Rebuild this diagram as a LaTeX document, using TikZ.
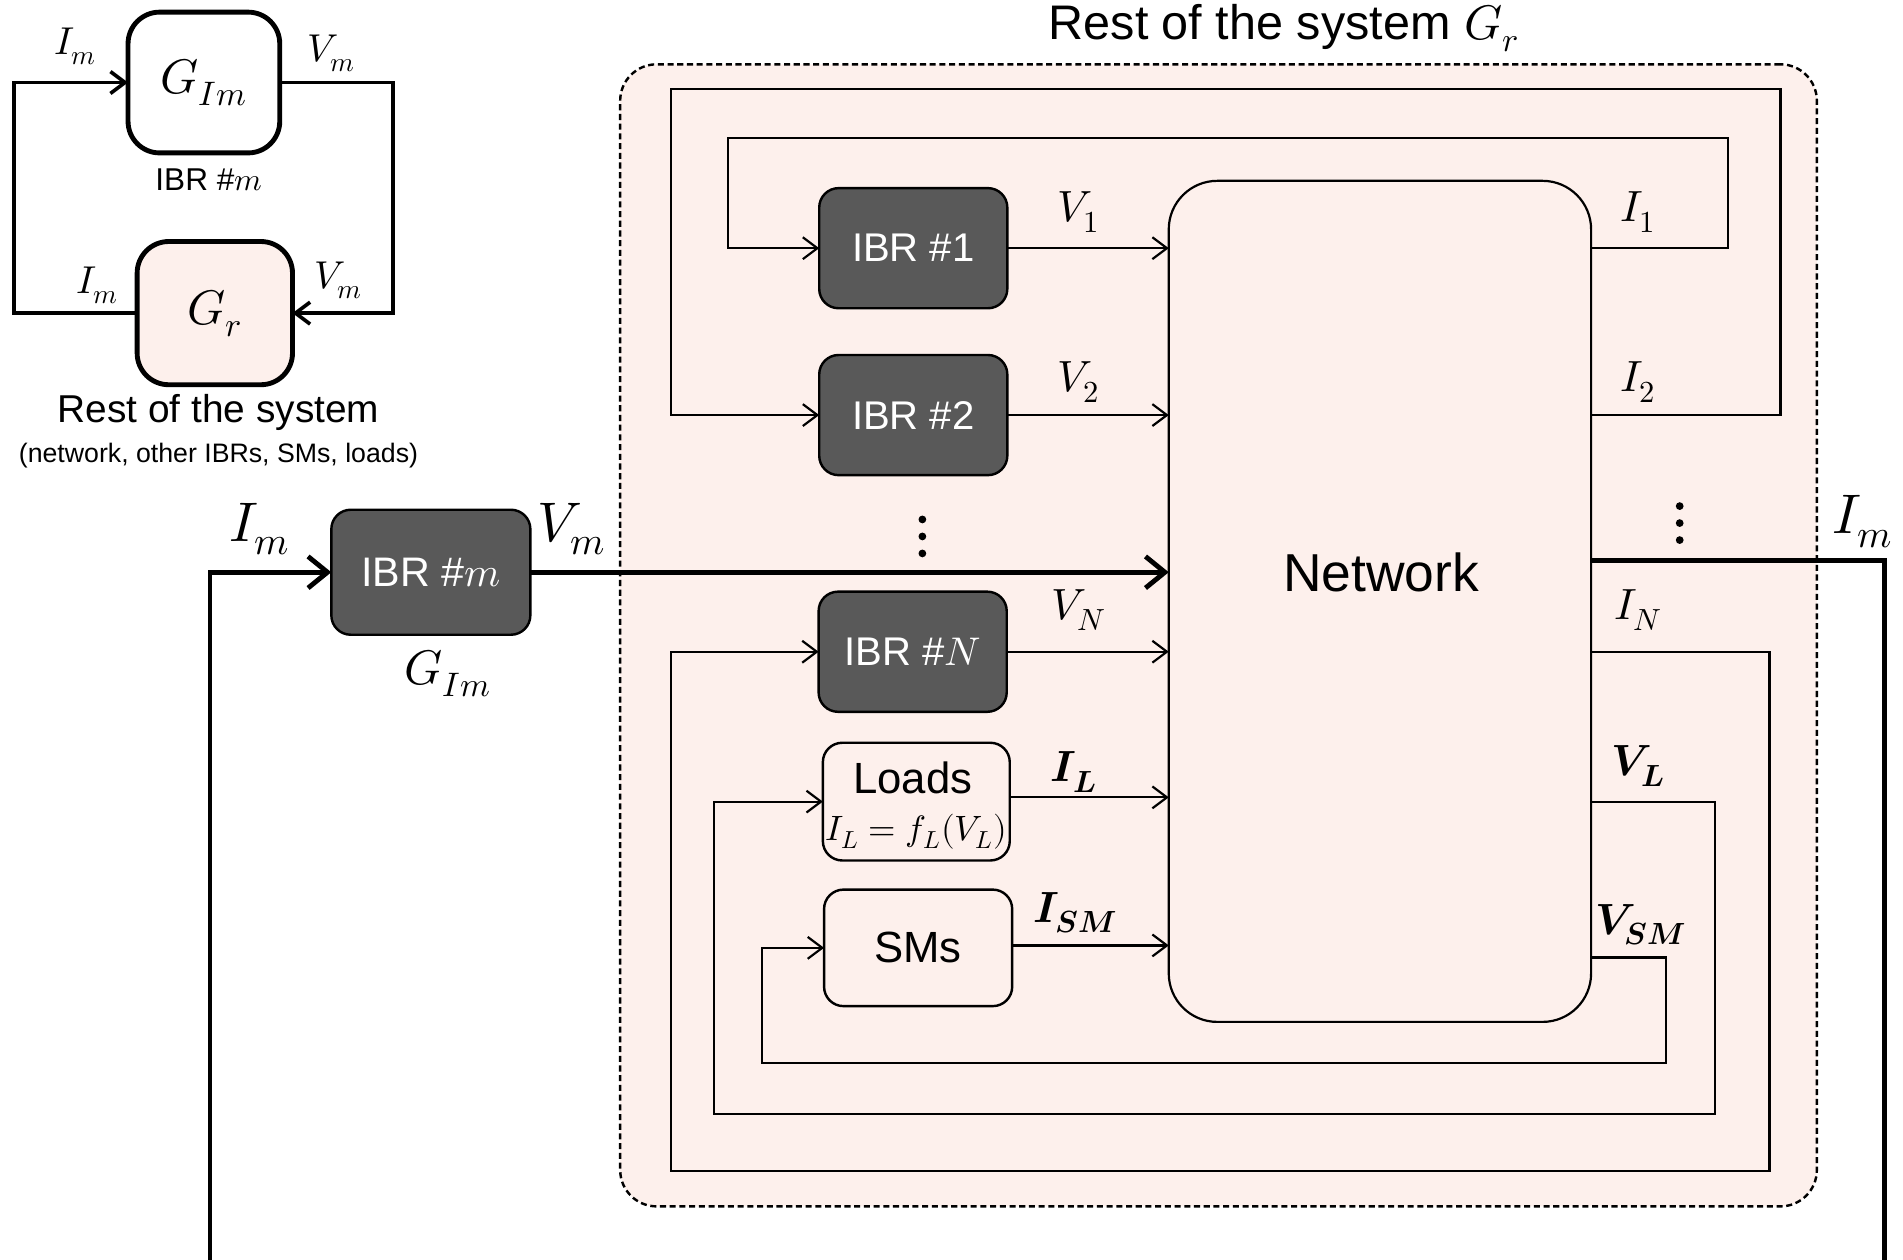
\documentclass[tikz,border=0pt]{standalone}
\usepackage{fontspec}
\usepackage{unicode-math}
\setmainfont{Liberation Sans}
\setmathfont{Latin Modern Math}
\usetikzlibrary{arrows.meta,calc}
\definecolor{pinkbg}{RGB}{253,240,236}
\definecolor{darkbox}{RGB}{89,89,89}
\newcommand{\fsz}[1]{\fontsize{#1}{#1}\selectfont}
\begin{document}
\begin{tikzpicture}[x=0.5pt,y=-0.5pt,
  thinln/.style={line width=0.9pt},
  thickln/.style={line width=2pt},
  tlln/.style={line width=1.5pt},
  tip/.style={-{Straight Barb[length=6pt,width=9pt]}},
  bigtip/.style={-{Straight Barb[length=8pt,width=13pt]}},
  tltip/.style={-{Straight Barb[length=6pt,width=9pt]}},
  darkblk/.style={draw=black, line width=1pt, fill=darkbox, rounded corners=8pt,
    text=white, inner sep=0pt, outer sep=0pt, minimum width=77.5pt, minimum height=49.5pt, font=\fsz{16.5}},
  lightblk/.style={draw=black, line width=1pt, fill=pinkbg, rounded corners=8pt,
    inner sep=0pt, outer sep=0pt, minimum width=77pt, minimum height=48.5pt},
  tlblk/.style={draw=black, line width=2pt, rounded corners=13pt, inner sep=0pt, outer sep=0pt},
  lbl/.style={inner sep=0pt, font=\fsz{18}},
]
\useasboundingbox (0,0) rectangle (1568,1038);

% ---------- top-left summary diagram ----------
\node[tlblk, fill=white, minimum width=62.5pt, minimum height=58pt, font=\fsz{20}] (gim) at (168,68) {$G_{Im}$};
\node[tlblk, fill=pinkbg, minimum width=64pt, minimum height=59pt, font=\fsz{20}] (gr) at (177,258) {$G_r$};
\coordinate (tlL) at (11.5,160);
\coordinate (tlR) at (324,160);
\draw[tlln, tltip] (gr.west) -| (tlL) |- (gim.west);
\draw[tlln, tltip] (gim.east) -| (tlR) |- (gr.east);
\node[lbl, font=\fsz{16}] (tlIm1) at (62,38) {$I_m$};
\node[lbl, font=\fsz{16}] (tlVm1) at (273,44) {$V_m$};
\node[lbl, font=\fsz{13}] (tlibr) at (172,148) {IBR \#$m$};
\node[lbl, font=\fsz{16}] (tlIm2) at (80,235) {$I_m$};
\node[lbl, font=\fsz{16}] (tlVm2) at (279,231) {$V_m$};
\node[lbl, font=\fsz{16}] (tlrest) at (180,340) {Rest of the system};
\node[lbl, font=\fsz{11}] (tlrest2) at (180,375) {(network, other IBRs, SMs, loads)};

% ---------- rest of the system ----------
\node[lbl, font=\fsz{20}] (title) at (1058,23) {Rest of the system $G_r$};
\node[draw=black, line width=1pt, dash pattern=on 2.5pt off 1.5pt, fill=pinkbg, rounded corners=15pt,
  inner sep=0pt, outer sep=0pt, minimum width=493pt, minimum height=470.5pt] (rest) at (1004,523.5) {};

\node[draw=black, line width=0.9pt, fill=pinkbg, rounded corners=20pt, inner sep=0pt, outer sep=0pt,
  minimum width=174pt, minimum height=346.5pt] (net) at (1137,495.5) {};
\node[lbl, font=\fsz{22}] (netlbl) at (1138,472) {Network};

\node[darkblk] (ibr1) at (752.5,204.5) {IBR \#1};
\node[darkblk] (ibr2) at (752.5,342) {IBR \#2};
\node[darkblk] (ibrN) at (752,537) {IBR \#$N$};
\node[lightblk] (loads) at (755,660.5) {};
\node[lbl, font=\fsz{18}] (loadsT) at (752,641) {Loads};
\node[lbl, font=\fsz{14.5}] (loadsF) at (755,685) {$I_L=f_L(V_L)$};
\node[lightblk, minimum width=77.5pt, minimum height=48pt, font=\fsz{18}] (sms) at (756.5,781) {SMs};

\node[darkblk, minimum width=82pt, minimum height=51.5pt, font=\fsz{17}] (ibrm) at (355,471.5) {IBR \#$m$};

% forward arrows into the network
\draw[thinln, tip] (ibr1.east) -- (ibr1.east -| net.west);
\draw[thinln, tip] (ibr2.east) -- (ibr2.east -| net.west);
\draw[thinln, tip] (ibrN.east) -- (ibrN.east -| net.west);
\draw[thinln, tip] ($(loads.east)+(0,-3.5)$) -- ($(loads.east -| net.west)+(0,-3.5)$);
\draw[thinln, tip] ($(sms.east)+(0,-2)$) -- ($(sms.east -| net.west)+(0,-2)$);

% feedback loops
\coordinate (c1a) at (1424,114);  \coordinate (c1b) at (600,114);
\coordinate (c2a) at (1467,73);   \coordinate (c2b) at (553,73);
\coordinate (cNa) at (1458,965);  \coordinate (cNb) at (553,965);
\coordinate (cLa) at (1413,918);  \coordinate (cLb) at (588,918);
\coordinate (cSa) at (1373,876);  \coordinate (cSb) at (628,876);
\draw[thinln, tip] (net.east |- ibr1.east) -| (c1a) -- (c1b) |- (ibr1.west);
\draw[thinln, tip] (net.east |- ibr2.east) -| (c2a) -- (c2b) |- (ibr2.west);
\draw[thinln, tip] (net.east |- ibrN.east) -| (cNa) -- (cNb) |- (ibrN.west);
\draw[thinln, tip] (net.east |- loads.east) -| (cLa) -- (cLb) |- (loads.west);
\draw[thinln, tip] ($(net.east |- sms.east)+(0,8)$) -| (cSa) -- (cSb) |- (sms.west);

% main thick path
\coordinate (imin) at (173,1040);
\coordinate (imout) at (1553,1040);
\draw[thickln, bigtip] (imin) |- (ibrm.west);
\draw[thickln, bigtip] (ibrm.east) -- (ibrm.east -| net.west);
\draw[thickln] ($(net.east |- ibrm.east)+(0,-9.5)$) -| (imout);

% dots
\foreach \yy in {428,442,456} \fill (760,\yy) circle (1.6pt);
\foreach \yy in {417,431,445} \fill (1384,\yy) circle (1.6pt);

% labels
\node[lbl] (lV1) at (889,175) {$V_1$};
\node[lbl] (lV2) at (889,315) {$V_2$};
\node[lbl] (lVN) at (889,503) {$V_N$};
\node[lbl] (lIL) at (885,636) {$\symbfit{I}_{\symbfit{L}}$};
\node[lbl] (lISM) at (886,752) {$\symbfit{I}_{\symbfit{SM}}$};
\node[lbl] (lI1) at (1350,175) {$I_1$};
\node[lbl] (lI2) at (1350,315) {$I_2$};
\node[lbl] (lIN) at (1350,503) {$I_N$};
\node[lbl] (lVL) at (1350,631) {$\symbfit{V}_{\symbfit{L}}$};
\node[lbl] (lVSM) at (1352,762) {$\symbfit{V}_{\symbfit{SM}}$};
\node[lbl, font=\fsz{23}] (lImin) at (214,436) {$I_m$};
\node[lbl, font=\fsz{23}] (lVm) at (471,436) {$V_m$};
\node[lbl, font=\fsz{20}] (lGIm) at (369,555) {$G_{Im}$};
\node[lbl, font=\fsz{23}] (lImout) at (1535,430) {$I_m$};
\end{tikzpicture}
\end{document}
